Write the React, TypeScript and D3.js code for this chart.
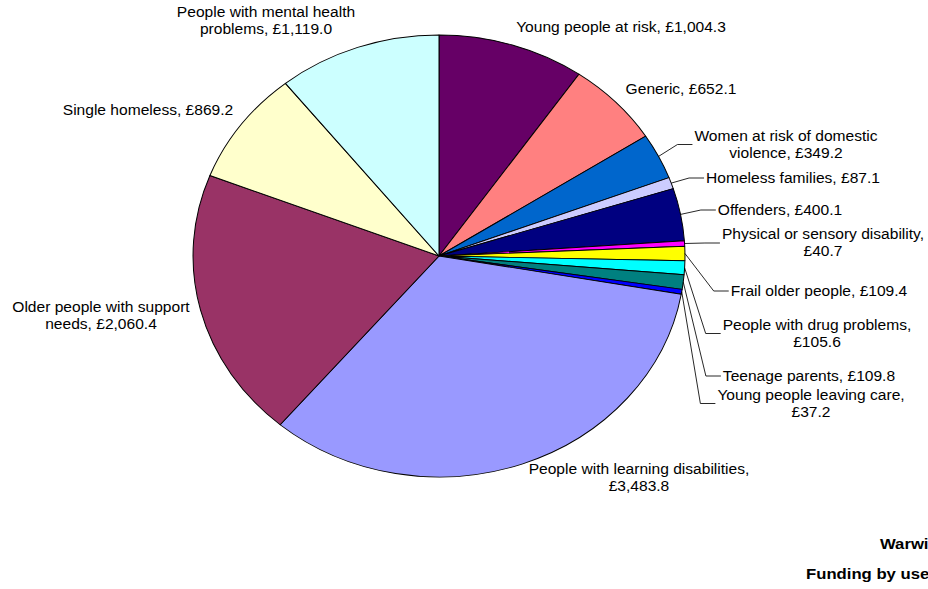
import React, { useEffect, useRef } from 'react';
import * as d3 from 'd3';

// slices, clockwise from 12 o'clock
const categories = [
  'Young people at risk',
  'Generic',
  'Women at risk of domestic violence',
  'Homeless families',
  'Offenders',
  'Physical or sensory disability',
  'Frail older people',
  'People with drug problems',
  'Teenage parents',
  'Young people leaving care',
  'People with learning disabilities',
  'Older people with support needs',
  'Single homeless',
  'People with mental health problems',
];
const values = [1004.3, 652.1, 349.2, 87.1, 400.1, 40.7, 109.4, 105.6, 109.8, 37.2, 3483.8, 2060.4, 869.2, 1119.0];
const colors = [
  '#660066', '#FF8080', '#0066CC', '#CCCCFF', '#000080', '#FF00FF', '#FFFF00',
  '#00FFFF', '#008080', '#0000FF', '#9999FF', '#993366', '#FFFFCC', '#CCFFFF',
];
// words on the first line of each label (0 = one line)
const firstLineWords = [0, 0, 5, 0, 0, 4, 0, 4, 0, 4, 4, 4, 0, 4];
// label centres (page px)
const labelX = [621, 681, 786, 793, 780, 823, 819, 817, 809, 811, 639, 101, 148, 266];
const labelY = [27, 89, 144.5, 178, 210, 243, 291, 333.5, 376, 403.5, 477.5, 315.5, 110.5, 20.5];
const withLeader = [2, 3, 4, 5, 6, 7, 8, 9];
const titles = ['Warwi', 'Funding by use'];

// the original picture is stretched sideways
const SX = 1.113;

export default function App() {
  const svgRef = useRef<SVGSVGElement>(null);

  useEffect(() => {
    if (!svgRef.current) return;
    const svg = d3.select(svgRef.current);
    svg.selectAll('*').remove();

    const root = svg.append('g').attr('transform', `scale(${SX},1)`);
    const cx = 439 / SX;
    const cy = 256;
    const r = 221;

    const pie = d3.pie<number>().sort(null).value(d => d);
    const arcs = pie(values);
    const arc = d3.arc<d3.PieArcDatum<number>>().innerRadius(0).outerRadius(r);

    const pieG = root.append('g').attr('transform', `translate(${cx},${cy})`);
    pieG.selectAll('path')
      .data(arcs)
      .join('path')
      .attr('d', arc)
      .attr('fill', (_, i) => colors[i])
      .attr('stroke', '#000')
      .attr('stroke-width', 0.9)
      .attr('stroke-linejoin', 'round');

    const fmt = d3.format(',.1f');
    const lineH = 16.8;

    arcs.forEach((a, i) => {
      const full = `${categories[i]}, £${fmt(values[i])}`;
      const words = full.split(' ');
      const n = firstLineWords[i];
      const lines = n > 0 ? [words.slice(0, n).join(' '), words.slice(n).join(' ')] : [full];
      const x = labelX[i] / SX;
      const y0 = labelY[i] - ((lines.length - 1) * lineH) / 2;

      const text = root.append('text')
        .attr('font-family', '"Liberation Sans", Arial, sans-serif')
        .attr('font-size', 14)
        .attr('fill', '#000')
        .attr('text-anchor', 'middle');
      lines.forEach((l, k) => {
        text.append('tspan')
          .attr('x', x)
          .attr('y', y0 + k * lineH)
          .attr('dominant-baseline', 'central')
          .text(l);
      });

      if (withLeader.includes(i)) {
        const left = (text.node() as SVGTextElement).getBBox().x;
        const mid = (a.startAngle + a.endAngle) / 2;
        const pts: [number, number][] = [
          [cx + r * Math.sin(mid), cy - r * Math.cos(mid)],
          [left - 17 / SX, labelY[i]],
          [left - 2 / SX, labelY[i]],
        ];
        root.append('path')
          .attr('d', d3.line()(pts))
          .attr('fill', 'none')
          .attr('stroke', '#000')
          .attr('stroke-width', 0.8);
      }
    });

    // titles cut off at the right edge
    root.append('text')
      .attr('x', 880 / SX)
      .attr('y', 544)
      .attr('dominant-baseline', 'central')
      .attr('font-family', '"Liberation Sans", Arial, sans-serif')
      .attr('font-size', 15)
      .attr('font-weight', 'bold')
      .text(titles[0]);
    root.append('text')
      .attr('x', 806 / SX)
      .attr('y', 574)
      .attr('dominant-baseline', 'central')
      .attr('font-family', '"Liberation Sans", Arial, sans-serif')
      .attr('font-size', 15)
      .attr('font-weight', 'bold')
      .text(titles[1]);
  }, []);

  return (
    <svg
      ref={svgRef}
      width={928}
      height={589}
      style={{ position: 'absolute', left: 0, top: 0, background: '#fff' }}
    />
  );
}
